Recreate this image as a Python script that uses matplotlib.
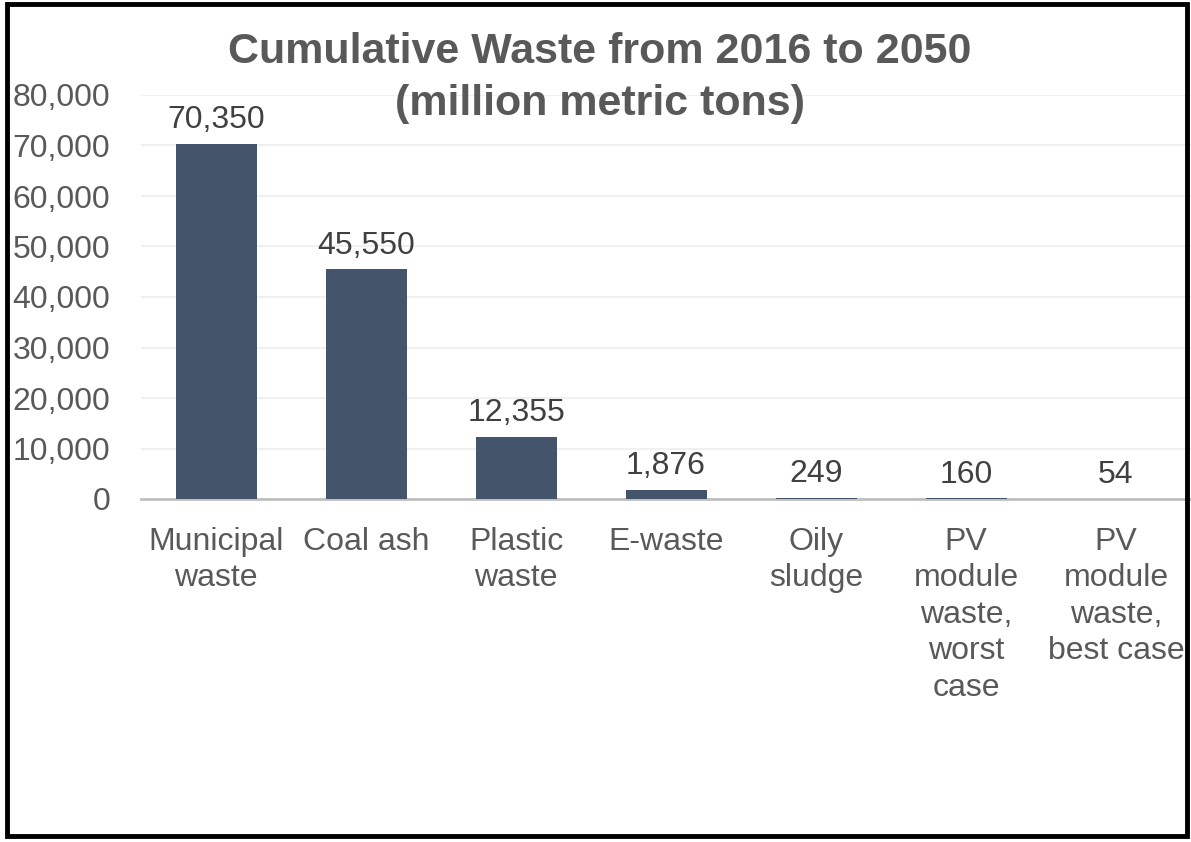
import matplotlib.pyplot as plt
from matplotlib.patches import Rectangle

categories = ["Municipal\nwaste", "Coal ash", "Plastic\nwaste", "E-waste", "Oily\nsludge",
              "PV\nmodule\nwaste,\nworst\ncase", "PV\nmodule\nwaste,\nbest case"]
values = [70350, 45550, 12355, 1876, 249, 160, 54]
yticks = [0, 10000, 20000, 30000, 40000, 50000, 60000, 70000, 80000]
title_lines = ["Cumulative Waste from 2016 to 2050", "(million metric tons)"]

plt.rcParams["font.family"] = ["Liberation Sans", "DejaVu Sans"]

fig = plt.figure(figsize=(11.91, 8.42), dpi=100)
ax = fig.add_axes([141 / 1191, 343 / 842, 1050 / 1191, 404 / 842])

x = range(len(values))
ax.bar(x, values, width=0.54, color="#44546A", zorder=3)
for xi, v in zip(x, values):
    ax.annotate(f"{v:,}", (xi, v), xytext=(0, 6), textcoords="offset points",
                ha="center", va="bottom", fontsize=23, color="#404040")

ax.set_xlim(-0.5, len(values) - 0.5)
ax.set_ylim(0, 80000)
ax.set_yticks(yticks)
ax.set_yticklabels([f"{t:,}" for t in yticks])
ax.set_xticks(list(x))
ax.set_xticklabels(categories, linespacing=1.28)
ax.tick_params(axis="y", length=0, pad=22, labelsize=23, labelcolor="#595959")
ax.tick_params(axis="x", length=0, pad=20, labelsize=23, labelcolor="#595959")
ax.grid(axis="y", color="#EEEEEE", linewidth=1.2, zorder=0)
for s in ["top", "right", "left"]:
    ax.spines[s].set_visible(False)
ax.spines["bottom"].set_color("#BFBFBF")
ax.spines["bottom"].set_linewidth(2)

# title, one text per line
for line, ypx in zip(title_lines, [52, 104]):
    fig.text(600 / 1191, 1 - ypx / 842, line, ha="center", va="center",
             fontsize=31, fontweight="bold", color="#595959")

# outer frame
fig.patches.append(Rectangle((7 / 1191, 6 / 842), 1180 / 1191, 832 / 842,
                             transform=fig.transFigure, fill=False,
                             edgecolor="black", linewidth=3.5))

fig.savefig("out.png", dpi=100)
